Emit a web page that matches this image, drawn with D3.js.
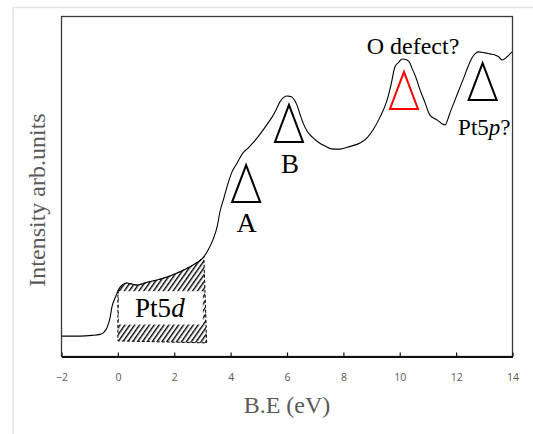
<!DOCTYPE html>
<html>
<head>
<meta charset="utf-8">
<script src="https://cdn.jsdelivr.net/npm/d3@7"></script>
<style>
  body { margin: 0; background: #fff; }
  svg { display: block; }
</style>
</head>
<body>
<div id="chart"></div>
<script>
/* CONSTANTS AND GLOBALS */
const width = 533,
  height = 434,
  margin = { top: 16.5, right: 20.5, bottom: 77.5, left: 61.5 };

// spectrum (arb. units, 0..100)
const energy = [-1.98, -1.34, -0.92, -0.63, -0.49, -0.39, -0.28, -0.21, -0.10, -0.03,
  0.08, 0.18, 0.32, 0.50, 0.68, 1.03, 1.39, 1.85, 2.20, 2.67,
  3.02, 3.20, 3.37, 3.52, 3.62, 3.76, 3.91, 4.05, 4.23, 4.44,
  4.62, 4.79, 4.97, 5.15, 5.33, 5.47, 5.61, 5.75, 5.89, 6.00,
  6.11, 6.18, 6.28, 6.35, 6.46, 6.57, 6.71, 6.89, 7.10, 7.35,
  7.63, 7.88, 8.24, 8.59, 8.84, 9.05, 9.30, 9.55, 9.69, 9.83,
  9.97, 10.08, 10.26, 10.36, 10.43, 10.58, 10.72, 10.90, 11.07, 11.32,
  11.46, 11.61, 11.71, 11.78, 11.96, 12.10, 12.24, 12.42, 12.56, 12.67,
  12.78, 13.02, 13.20, 13.38, 13.52, 13.63, 13.80, 13.98];
const intensity = [6.0, 6.0, 6.2, 6.5, 7.2, 8.4, 11.3, 14.6, 17.2, 18.7,
  20.4, 21.2, 21.6, 21.3, 21.0, 21.8, 22.5, 23.7, 24.9, 26.9,
  29.0, 31.3, 34.3, 38.1, 42.5, 46.6, 51.0, 54.3, 56.9, 59.9,
  61.3, 62.8, 64.6, 66.6, 68.7, 70.4, 72.5, 74.9, 76.2, 76.6,
  76.5, 76.3, 75.2, 74.0, 71.3, 68.7, 66.3, 64.6, 63.1, 61.9,
  61.0, 61.0, 61.8, 62.8, 64.3, 66.6, 70.4, 75.4, 79.9, 85.2,
  86.6, 87.5, 87.2, 86.3, 84.9, 81.9, 78.4, 74.6, 71.0, 69.6,
  68.7, 68.1, 69.9, 71.6, 75.4, 78.4, 81.3, 85.2, 87.8, 89.0,
  89.6, 89.3, 89.0, 88.7, 88.1, 87.2, 88.1, 89.6];

const xTicks = [-2, 0, 2, 4, 6, 8, 10, 12, 14];

// Pt5d hatched band
const bandStart = 0, bandEnd = 3.05, bandFloor = 4.6;
const bandGapTop = 19.2, bandGapBottom = 9.4;

// triangle markers (apex position)
const markerE = [4.55, 6.07, 10.15, 12.94];
const markerI = [56.3, 74.0, 83.7, 86.3];
const markerColor = ["#000", "#000", "#ff0000", "#000"];

// annotation labels
const labelText = ["A", "B", "O defect?"];
const labelE = [4.57, 6.11, 10.47];
const labelI = [36.6, 54.0, 89.0];
const labelSize = [28, 27, 24];

const svg = d3.select("#chart").append("svg")
  .attr("width", width).attr("height", height);

const xScale = d3.scaleLinear().domain([-2, 14])
  .range([margin.left, width - margin.right]);
const yScale = d3.scaleLinear().domain([0, 100])
  .range([height - margin.bottom, margin.top]);

// outer frame of the figure
svg.append("rect")
  .attr("x", 13).attr("y", 7.5).attr("width", 540).attr("height", 450)
  .attr("fill", "none").attr("stroke", "#e3e3e3").attr("stroke-width", 1.5);

// hatch pattern
const defs = svg.append("defs");
const pat = defs.append("pattern")
  .attr("id", "hatch").attr("patternUnits", "userSpaceOnUse")
  .attr("width", 4).attr("height", 4)
  .attr("patternTransform", "rotate(35)");
pat.append("rect").attr("width", 1.4).attr("height", 4).attr("fill", "#000");

const line = d3.line()
  .x((d, i) => xScale(energy[i]))
  .y((d, i) => yScale(intensity[i]))
  .curve(d3.curveMonotoneX);

// band polygon: curve from bandStart to bandEnd, then down to the floor
const interp = e => {
  const j = d3.bisectLeft(energy, e);
  const e0 = energy[j - 1], e1 = energy[j];
  const t = (e - e0) / (e1 - e0);
  return intensity[j - 1] + t * (intensity[j] - intensity[j - 1]);
};
const bandPts = [[bandStart, interp(bandStart)]];
energy.forEach((e, i) => { if (e > bandStart && e < bandEnd) bandPts.push([e, intensity[i]]); });
bandPts.push([bandEnd, interp(bandEnd)]);
bandPts.push([bandEnd + 0.1, bandFloor - 0.6]);
bandPts.push([bandStart, bandFloor]);

const bandPath = d3.line().x(d => xScale(d[0])).y(d => yScale(d[1]));

svg.append("path")
  .attr("d", bandPath(bandPts) + "Z")
  .attr("fill", "url(#hatch)");

svg.append("rect")
  .attr("x", xScale(bandStart) + 1)
  .attr("y", yScale(bandGapTop))
  .attr("width", xScale(bandEnd) - xScale(bandStart) - 2)
  .attr("height", yScale(bandGapBottom) - yScale(bandGapTop))
  .attr("fill", "#fff");

svg.append("path")
  .attr("d", bandPath(bandPts) + "Z")
  .attr("fill", "none").attr("stroke", "#000")
  .attr("stroke-width", 1).attr("stroke-dasharray", "3,2");

// spectrum
svg.append("path")
  .attr("d", line(energy))
  .attr("fill", "none").attr("stroke", "#000").attr("stroke-width", 1.1);

// plot border
svg.append("rect")
  .attr("x", margin.left).attr("y", margin.top)
  .attr("width", width - margin.left - margin.right)
  .attr("height", height - margin.top - margin.bottom)
  .attr("fill", "none").attr("stroke", "#3a3a3a").attr("stroke-width", 1.3);

// x axis
const xAxis = d3.axisBottom(xScale).tickValues(xTicks).tickSizeInner(-4).tickSizeOuter(0).tickPadding(17);
const gx = svg.append("g")
  .attr("transform", `translate(0, ${height - margin.bottom})`)
  .call(xAxis);
gx.select(".domain").attr("stroke", "#111").attr("stroke-width", 2);
gx.selectAll(".tick line").attr("stroke", "#111").attr("stroke-width", 1.2);
gx.selectAll(".tick text")
  .attr("fill", "#595959")
  .style("font-family", "'Open Sans', sans-serif")
  .style("font-size", "10.5px");

// axis titles
svg.append("text")
  .attr("x", xScale(6)).attr("y", 413)
  .attr("text-anchor", "middle")
  .attr("fill", "#595959")
  .style("font-family", "'Liberation Serif', serif")
  .style("font-size", "24px")
  .text("B.E (eV)");

svg.append("text")
  .attr("transform", "translate(45, 200) rotate(-90)")
  .attr("text-anchor", "middle")
  .attr("fill", "#595959")
  .style("font-family", "'Liberation Serif', serif")
  .style("font-size", "24px")
  .text("Intensity arb.units");

// triangles
const triW = 28, triH = 37;
svg.selectAll(".marker")
  .data(markerE)
  .join("path")
  .attr("class", "marker")
  .attr("d", (d, i) => {
    const x = xScale(d), y = yScale(markerI[i]);
    return `M${x},${y}L${x + triW / 2},${y + triH}L${x - triW / 2},${y + triH}Z`;
  })
  .attr("fill", "none")
  .attr("stroke", (d, i) => markerColor[i])
  .attr("stroke-width", 2);

// labels
const serif = "'Liberation Serif', 'Times New Roman', serif";
svg.selectAll(".label")
  .data(labelText)
  .join("text")
  .attr("class", "label")
  .attr("x", (d, i) => xScale(labelE[i]))
  .attr("y", (d, i) => yScale(labelI[i]))
  .attr("text-anchor", "middle")
  .style("font-family", serif)
  .style("font-size", (d, i) => labelSize[i] + "px")
  .text(d => d);

const pt5p = svg.append("text")
  .attr("x", xScale(13.0)).attr("y", yScale(65.1))
  .attr("text-anchor", "middle")
  .style("font-family", serif).style("font-size", "23px");
pt5p.append("tspan").text("Pt5");
pt5p.append("tspan").style("font-style", "italic").text("p");
pt5p.append("tspan").text("?");

const pt5d = svg.append("text")
  .attr("x", xScale(1.49)).attr("y", yScale(11.6))
  .attr("text-anchor", "middle")
  .style("font-family", serif).style("font-size", "27px");
pt5d.append("tspan").text("Pt5");
pt5d.append("tspan").style("font-style", "italic").text("d");
</script>
</body>
</html>
